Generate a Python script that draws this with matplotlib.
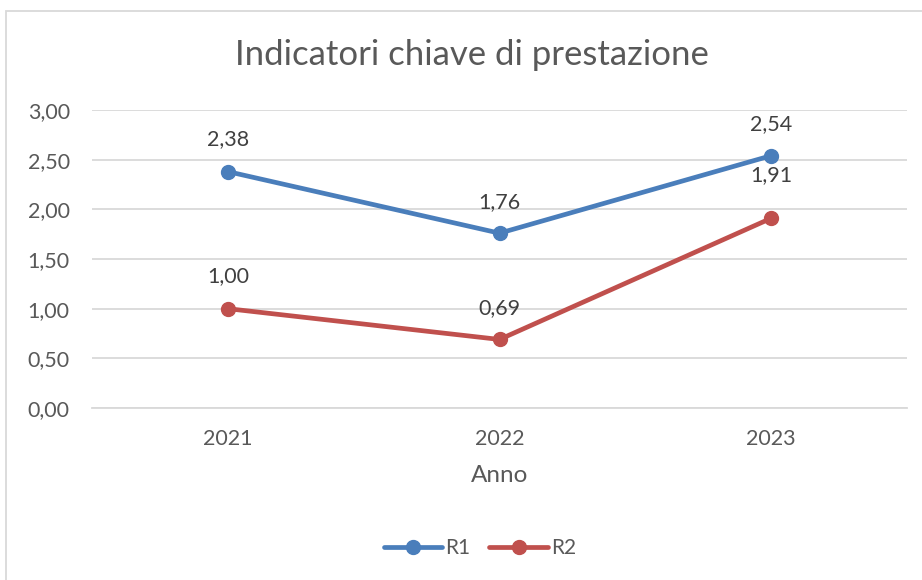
import matplotlib.pyplot as plt
from matplotlib.patches import Rectangle

plt.rcParams['font.family'] = ['Lato', 'DejaVu Sans']

anni = ['2021', '2022', '2023']
r1 = [2.38, 1.76, 2.54]
r2 = [1.00, 0.69, 1.91]
y_ticks = [0, 0.5, 1.0, 1.5, 2.0, 2.5, 3.0]

blu = '#4a7ebb'
rosso = '#c0504d'
grigio = '#595959'

fig = plt.figure(figsize=(9.22, 5.8), dpi=100)
ax = fig.add_axes([92/922, 1 - 408/580, 815/922, 298/580])

x = range(len(anni))
ax.plot(x, r1, color=blu, lw=3.4, marker='o', ms=10, label='R1', solid_capstyle='round')
ax.plot(x, r2, color=rosso, lw=3.4, marker='o', ms=10, label='R2', solid_capstyle='round')

# etichette dati sopra i punti
off1 = [32, 31, 32]
off2 = [33, 31, 43]
for i, v in enumerate(r1):
    ax.annotate(f'{v:.2f}'.replace('.', ','), (i, v), xytext=(0, off1[i] * 0.72),
                textcoords='offset points', ha='center', va='center',
                fontsize=15.5, color='#404040')
for i, v in enumerate(r2):
    ax.annotate(f'{v:.2f}'.replace('.', ','), (i, v), xytext=(0, off2[i] * 0.72),
                textcoords='offset points', ha='center', va='center',
                fontsize=15.5, color='#404040')

ax.set_xlim(-0.5, 2.5)
ax.set_ylim(0, 3)
ax.set_yticks(y_ticks)
ax.set_yticklabels([f'{t:.2f}'.replace('.', ',') for t in y_ticks])
ax.set_xticks(list(x))
ax.set_xticklabels(anni)
ax.tick_params(length=0, labelsize=15.5, labelcolor=grigio)
ax.tick_params(axis='x', pad=15)
ax.tick_params(axis='y', pad=16)
ax.grid(axis='y', color='#d9d9d9', lw=1.3)
ax.set_axisbelow(True)
for s in ax.spines.values():
    s.set_visible(False)
ax.spines['bottom'].set_visible(True)
ax.spines['bottom'].set_color('#d9d9d9')
ax.spines['bottom'].set_linewidth(1.3)

ax.set_xlabel('Anno', fontsize=17.5, color=grigio, labelpad=12)
fig.text(472/922, 1 - 55/580, 'Indicatori chiave di prestazione', ha='center', va='center',
         fontsize=25, color=grigio)

fig.legend(loc='center', bbox_to_anchor=(480/922, 1 - 548/580), ncol=2, frameon=False,
           fontsize=15, labelcolor=grigio, handlelength=2.8, handletextpad=0.15,
           columnspacing=0.9)

fig.patches.append(Rectangle((6/922, -0.1), 1.2, 1 - 11/580 + 0.1, transform=fig.transFigure,
                             fill=False, edgecolor='#d9d9d9', lw=1.3))

fig.savefig('out.png', dpi=100)
